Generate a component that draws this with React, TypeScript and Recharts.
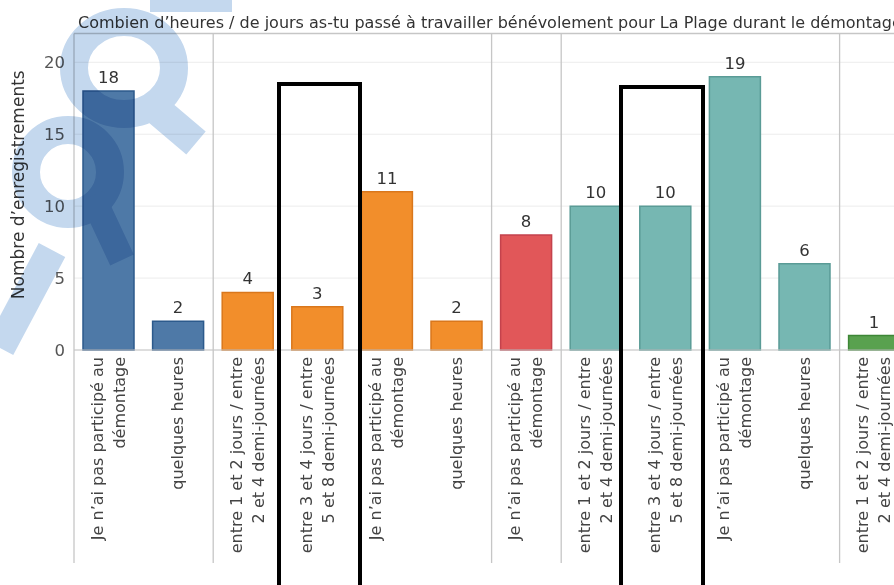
import React from "react"
import { BarChart, Bar, XAxis, YAxis, CartesianGrid, Cell, LabelList, ReferenceLine } from "recharts"

const ids = ["c0", "c1", "c2", "c3", "c4", "c5", "c6", "c7", "c8", "c9", "c10", "c11"]

const tickLabels: string[][] = [
  ["Je n’ai pas participé au", "démontage"],
  ["quelques heures"],
  ["entre 1 et 2 jours / entre", "2 et 4 demi-journées"],
  ["entre 3 et 4 jours / entre", "5 et 8 demi-journées"],
  ["Je n’ai pas participé au", "démontage"],
  ["quelques heures"],
  ["Je n’ai pas participé au", "démontage"],
  ["entre 1 et 2 jours / entre", "2 et 4 demi-journées"],
  ["entre 3 et 4 jours / entre", "5 et 8 demi-journées"],
  ["Je n’ai pas participé au", "démontage"],
  ["quelques heures"],
  ["entre 1 et 2 jours / entre", "2 et 4 demi-journées"],
]

const values = [18, 2, 4, 3, 11, 2, 8, 10, 10, 19, 6, 1]

const groups = ["blue", "blue", "orange", "orange", "orange", "orange", "red", "teal", "teal", "teal", "teal", "green"]

const yTicks = [0, 5, 10, 15, 20]

const title = "Combien d’heures / de jours as-tu passé à travailler bénévolement pour La Plage durant le démontage ?"

const fill: Record<string, string> = {
  blue: "#4e79a7",
  orange: "#f28e2b",
  red: "#e15759",
  teal: "#76b7b2",
  green: "#59a14f",
}

const edge: Record<string, string> = {
  blue: "#2c5a8c",
  orange: "#d9771c",
  red: "#c4424c",
  teal: "#5a9b96",
  green: "#3d8636",
}

const FONT = "'DejaVu Sans', sans-serif"

const data = ids.map((id, i) => ({ id, value: values[i], group: groups[i] }))

// panel borders sit where the colour group changes
const separators = ids.filter((_, i) => i === 0 || groups[i] !== groups[i - 1])

const XTick = ({ x, y, payload }: any) => {
  const idx = ids.indexOf(payload.value)
  const lines = tickLabels[idx] || []
  const offs = lines.length === 1 ? [5] : [-6, 16]
  return (
    <g transform={`translate(${x},${y})`}>
      {lines.map((t, i) => (
        <text
          key={i}
          transform="rotate(-90)"
          x={-7}
          y={offs[i]}
          textAnchor="end"
          fill="#444"
          style={{ fontFamily: FONT, fontSize: 16 }}
        >
          {t}
        </text>
      ))}
    </g>
  )
}

const SepLine = (p: any) => {
  const top = Math.min(p.y1, p.y2)
  const bottom = Math.max(p.y1, p.y2)
  return <line x1={p.x1} x2={p.x2} y1={top} y2={bottom + 213} stroke="#c6c6c6" strokeWidth={1.3} />
}

const YLabel = ({ viewBox }: any) => {
  const cy = viewBox.y + viewBox.height / 2 - 7
  return (
    <text
      transform={`translate(23.5,${cy}) rotate(-90)`}
      textAnchor="middle"
      fill="#333"
      style={{ fontFamily: FONT, fontSize: 17 }}
    >
      Nombre d’enregistrements
    </text>
  )
}

export default function App() {
  return (
    <div style={{ position: "absolute", left: 0, top: 0, width: 894, height: 585, overflow: "hidden", background: "#fff" }}>
      <div
        style={{
          position: "absolute",
          left: 78,
          top: 14,
          whiteSpace: "nowrap",
          fontFamily: FONT,
          fontSize: 16,
          lineHeight: "17px",
          color: "#333",
        }}
      >
        {title}
      </div>
      <BarChart
        width={920}
        height={585}
        data={data}
        margin={{ top: 33.5, right: 10.8, left: 0, bottom: 0 }}
      >
        <CartesianGrid vertical={false} stroke="#ececec" />
        <XAxis
          dataKey="id"
          height={235}
          interval={0}
          tickLine={false}
          tickSize={0}
          tickMargin={0}
          axisLine={{ stroke: "#c6c6c6" }}
          tick={<XTick />}
        />
        <YAxis
          width={74}
          domain={[0, 22]}
          ticks={yTicks}
          axisLine={false}
          tickLine={false}
          tickSize={0}
          tickMargin={9}
          tick={{ fill: "#555", fontSize: 16.5, fontFamily: FONT }}
          label={<YLabel />}
        />
        <ReferenceLine y={22} stroke="#c6c6c6" strokeWidth={1.3} />
        {separators.map((id) => (
          <ReferenceLine key={id} x={id} position="start" shape={<SepLine />} />
        ))}
        <Bar dataKey="value" barSize={51} isAnimationActive={false}>
          {data.map((d) => (
            <Cell key={d.id} fill={fill[d.group]} stroke={edge[d.group]} strokeWidth={1.5} />
          ))}
          <LabelList
            dataKey="value"
            position="top"
            offset={8}
            fill="#333"
            style={{ fontFamily: FONT, fontSize: 16.5 }}
          />
        </Bar>
      </BarChart>
      {/* hand-drawn highlight boxes */}
      <div style={{ position: "absolute", left: 277, top: 82, width: 77, height: 520, border: "4px solid #000" }} />
      <div style={{ position: "absolute", left: 619, top: 85, width: 78, height: 520, border: "4px solid #000" }} />
      {/* faint watermark, multiplied over the chart */}
      <svg
        width={894}
        height={585}
        style={{ position: "absolute", left: 0, top: 0, pointerEvents: "none", mixBlendMode: "multiply" }}
      >
        <g stroke="#c4d8ee" fill="none" strokeLinecap="butt">
          <ellipse cx={124} cy={68} rx={50} ry={46} strokeWidth={28} />
          <line x1={150} y1={104} x2={196} y2={143} strokeWidth={30} />
          <line x1={150} y1={6} x2={232} y2={6} strokeWidth={12} />
          <circle cx={68} cy={172} r={42} strokeWidth={28} />
          <line x1={92} y1={196} x2={122} y2={260} strokeWidth={26} />
          <line x1={0} y1={348} x2={52} y2={250} strokeWidth={30} />
        </g>
      </svg>
    </div>
  )
}
